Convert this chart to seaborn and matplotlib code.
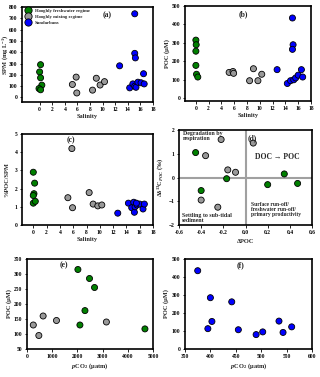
import numpy as np
import pandas as pd
import matplotlib
matplotlib.use("Agg")
import matplotlib.pyplot as plt
import seaborn as sns

sns.set_theme(style="white")
plt.rcParams['font.family'] = ['Liberation Serif', 'DejaVu Serif']
plt.rcParams['font.weight'] = 'bold'
plt.rcParams['mathtext.fontset'] = 'custom'
plt.rcParams['mathtext.rm'] = 'Liberation Serif:bold'
plt.rcParams['mathtext.it'] = 'Liberation Serif:italic:bold'
plt.rcParams['mathtext.bf'] = 'Liberation Serif:bold'

regimes = ["Hooghly freshwater regime", "Hooghly mixing regime", "Sundarbans"]
palette = {"Hooghly freshwater regime": "#008000",
           "Hooghly mixing regime": "#999999",
           "Sundarbans": "#0000ff"}

# Panel (a)
sal_fw = [0.15, 0.0, 0.15, 0.35, -0.1, 0.15]
spm_fw = [290, 226, 174, 109, 79, 68]
sal_mx = [5.2, 5.8, 5.9, 8.4, 9.0, 9.6, 10.3]
spm_mx = [115, 180, 40, 65, 170, 110, 140]
sal_sb = [12.7, 15.1, 15.1, 15.2, 14.3, 14.8, 15.1, 15.3, 15.6, 16.1, 16.5, 16.6]
spm_sb = [280, 740, 390, 350, 85, 120, 100, 90, 135, 130, 210, 120]

# Panel (b)
salb_fw = [0.0, 0.05, 0.0, 0.0, 0.1, 0.3]
poc_fw = [315, 290, 255, 178, 130, 115]
salb_mx = [5.2, 5.8, 5.9, 8.4, 9.0, 9.7, 10.3]
poc_mx = [140, 145, 135, 95, 160, 95, 130]
salb_sb = [12.7, 15.1, 15.2, 15.1, 14.3, 14.8, 15.3, 15.6, 16.0, 16.5, 16.7]
poc_sb = [155, 435, 290, 265, 80, 95, 100, 110, 125, 155, 115]

# Panel (c)
salc_fw = [0.0, 0.2, 0.1, 0.0, 0.0, 0.3]
pct_fw = [2.9, 2.3, 1.72, 1.62, 1.2, 1.3]
salc_mx = [5.2, 5.8, 5.9, 8.4, 9.0, 9.7, 10.3]
pct_mx = [1.5, 4.2, 0.95, 1.78, 1.15, 1.05, 1.1]
salc_sb = [12.7, 14.3, 14.8, 15.1, 15.2, 15.3, 15.6, 16.0, 16.5, 16.7, 15.5]
pct_sb = [0.65, 1.2, 0.95, 1.25, 0.7, 1.0, 1.1, 1.15, 0.88, 1.15, 1.2]

# Panel (d)
dpoc_fw = [-0.45, -0.17, -0.40, 0.35, 0.20, 0.47]
dc13_fw = [1.05, -0.05, -0.55, 0.15, -0.30, -0.25]
dpoc_mx = [-0.22, 0.07, -0.36, -0.16, -0.09, -0.40, -0.25]
dc13_mx = [1.60, 1.45, 0.92, 0.32, 0.22, -0.95, -1.25]

# Panel (e)
pco2_fw = [2020, 2480, 2680, 2300, 2100, 4680]
poce_fw = [315, 285, 255, 178, 130, 117]
pco2_mx = [250, 470, 640, 1170, 3150]
poce_mx = [130, 95, 160, 145, 140]

# Panel (f)
pco2_sb = [375, 400, 395, 403, 442, 455, 490, 503, 535, 543, 560]
pocf_sb = [435, 285, 113, 153, 262, 107, 80, 95, 155, 92, 123]


def frame(groups):
    rows = []
    for reg, xs, ys in groups:
        for x, y in zip(xs, ys):
            rows.append({"x": x, "y": y, "regime": reg})
    return pd.DataFrame(rows)


W, H = 320, 377
fig = plt.figure(figsize=(W / 100, H / 100), dpi=100)


def add_ax(l, r, t, b):
    return fig.add_axes([l / W, 1 - b / H, (r - l) / W, (b - t) / H])


TICK = 4
LAB = 4.6
MS = 19


def style(ax, ylx):
    for s in ax.spines.values():
        s.set_color("black")
        s.set_linewidth(1.2)
    ax.tick_params(axis="both", which="both", direction="out", length=1.8, width=0.6,
                   labelsize=TICK, pad=1.5, bottom=True, left=True, colors="black")
    for lab in ax.get_xticklabels() + ax.get_yticklabels():
        lab.set_fontweight("bold")
    ax.yaxis.set_label_coords(ylx, 0.5)


def scat(ax, df, legend=False):
    sns.scatterplot(data=df, x="x", y="y", hue="regime", palette=palette,
                    hue_order=[r for r in regimes if r in set(df["regime"])],
                    s=MS, edgecolor="black", linewidth=0.6, ax=ax, legend=legend, zorder=3)


# (a)
ax = add_ax(22, 153, 7, 102)
dfa = frame([(regimes[0], sal_fw, spm_fw), (regimes[1], sal_mx, spm_mx), (regimes[2], sal_sb, spm_sb)])
scat(ax, dfa, legend=True)
ax.set_xlim(-2.8, 18)
ax.set_ylim(-40, 800)
ax.set_xticks(range(0, 19, 2))
ax.set_yticks(range(0, 801, 100))
ax.set_xlabel("Salinity", fontsize=LAB, fontweight="bold", labelpad=2)
ax.set_ylabel("SPM (mg L$^{-1}$)", fontsize=LAB, fontweight="bold")
ax.text(0.65, 0.91, "(a)", transform=ax.transAxes, fontsize=5.5, fontweight="bold", ha="center", va="center")
leg = ax.legend(loc="upper left", frameon=False, fontsize=3.4, markerscale=1.2,
                handletextpad=0.4, labelspacing=0.35, borderaxespad=0.2, borderpad=0.1)
for t in leg.get_texts():
    t.set_fontweight("bold")
style(ax, -0.095)

# (b)
ax = add_ax(185, 311, 6, 101)
dfb = frame([(regimes[0], salb_fw, poc_fw), (regimes[1], salb_mx, poc_mx), (regimes[2], salb_sb, poc_sb)])
scat(ax, dfb)
ax.set_xlim(-1.7, 18)
ax.set_ylim(-15, 500)
ax.set_xticks(range(0, 19, 2))
ax.set_yticks(range(0, 501, 100))
ax.set_xlabel("Salinity", fontsize=LAB, fontweight="bold", labelpad=2)
ax.set_ylabel("POC (µM)", fontsize=LAB, fontweight="bold")
ax.text(0.46, 0.91, "(b)", transform=ax.transAxes, fontsize=5.5, fontweight="bold", ha="center", va="center")
style(ax, -0.123)

# (c)
ax = add_ax(22, 153, 134, 225)
dfc = frame([(regimes[0], salc_fw, pct_fw), (regimes[1], salc_mx, pct_mx), (regimes[2], salc_sb, pct_sb)])
scat(ax, dfc)
ax.set_xlim(-1.7, 18)
ax.set_ylim(0, 5)
ax.set_xticks(range(0, 19, 2))
ax.set_yticks(range(0, 6, 1))
ax.set_xlabel("Salinity", fontsize=LAB, fontweight="bold", labelpad=2)
ax.set_ylabel("%POC/SPM", fontsize=LAB, fontweight="bold")
ax.text(0.37, 0.93, "(c)", transform=ax.transAxes, fontsize=5.5, fontweight="bold", ha="center", va="center")
style(ax, -0.095)

# (d)
ax = add_ax(179, 312, 130, 225)
ax.axvline(0, color="#a0a0a0", lw=1.5, zorder=1)
ax.axhline(0, color="#a0a0a0", lw=1.5, zorder=1)
dfd = frame([(regimes[0], dpoc_fw, dc13_fw), (regimes[1], dpoc_mx, dc13_mx)])
scat(ax, dfd)
ax.set_xlim(-0.6, 0.6)
ax.set_ylim(-2, 2)
ax.set_xticks(np.round(np.arange(-0.6, 0.61, 0.2), 1))
ax.set_xticklabels(["-0.6", "-0.4", "-0.2", "0.0", "0.2", "0.4", "0.6"])
ax.set_yticks(range(-2, 3, 1))
ax.set_xlabel("ΔPOC", fontsize=LAB, fontweight="bold", labelpad=3)
ax.set_ylabel("Δδ$^{13}$C$_{POC}$ (‰)", fontsize=LAB, fontweight="bold")
ax.text(0.55, 0.96, "(d)", transform=ax.transAxes, fontsize=5.5, fontweight="bold", ha="center", va="top")
ax.text(0.03, 0.985, "Degradation by\nrespiration", transform=ax.transAxes, fontsize=4.2,
        fontweight="bold", ha="left", va="top", linespacing=1.0)
ax.text(0.74, 0.72, "DOC → POC", transform=ax.transAxes, fontsize=5.5,
        fontweight="bold", ha="center", va="center")
ax.text(0.02, 0.02, "Settling to sub-tidal\nsediment", transform=ax.transAxes, fontsize=4.2,
        fontweight="bold", ha="left", va="bottom", linespacing=1.0)
ax.text(0.54, 0.08, "Surface run-off/\nfreshwater run-off/\nprimary productivity", transform=ax.transAxes,
        fontsize=4.0, fontweight="bold", ha="left", va="bottom", linespacing=1.0)
style(ax, -0.109)

# (e)
ax = add_ax(27, 153, 259, 349)
dfe = frame([(regimes[0], pco2_fw, poce_fw), (regimes[1], pco2_mx, poce_mx)])
scat(ax, dfe)
ax.set_xlim(0, 5000)
ax.set_ylim(50, 350)
ax.set_xticks(range(0, 5001, 1000))
ax.set_yticks(range(50, 351, 50))
ax.set_xlabel("$p$CO$_2$ (µatm)", fontsize=LAB, fontweight="bold", labelpad=2)
ax.set_ylabel("POC (µM)", fontsize=LAB, fontweight="bold")
ax.text(0.29, 0.93, "(e)", transform=ax.transAxes, fontsize=5.5, fontweight="bold", ha="center", va="center")
style(ax, -0.123)

# (f)
ax = add_ax(185, 312, 259, 349)
dff = frame([(regimes[2], pco2_sb, pocf_sb)])
scat(ax, dff)
ax.set_xlim(350, 600)
ax.set_ylim(0, 500)
ax.set_xticks(range(350, 601, 50))
ax.set_yticks(range(0, 501, 100))
ax.set_xlabel("$p$CO$_2$ (µatm)", fontsize=LAB, fontweight="bold", labelpad=2)
ax.set_ylabel("POC (µM)", fontsize=LAB, fontweight="bold")
ax.text(0.44, 0.93, "(f)", transform=ax.transAxes, fontsize=5.5, fontweight="bold", ha="center", va="center")
style(ax, -0.123)

fig.savefig("out.png", dpi=100, facecolor="white")
